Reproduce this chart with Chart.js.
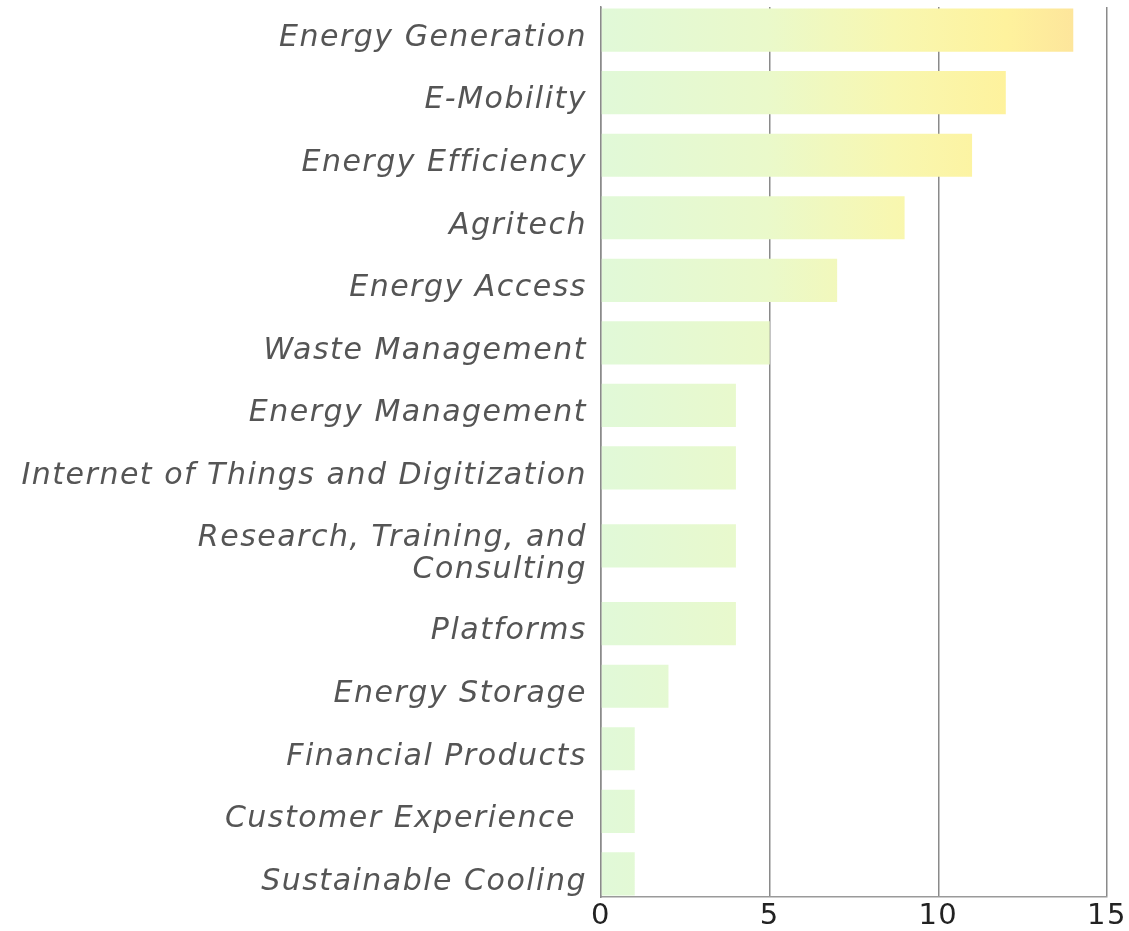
<!DOCTYPE html>
<html>
<head>
<meta charset="utf-8">
<script src="https://cdn.jsdelivr.net/npm/chart.js@4/dist/chart.umd.min.js"></script>
<style>
  html, body { margin: 0; padding: 0; background: #fff; }
  #wrap { width: 1129px; height: 931px; }
</style>
</head>
<body>
<div id="wrap"><canvas id="myChart" width="1129" height="931"></canvas></div>
<script>
'use strict';

var categories = [
  'Energy Generation',
  'E-Mobility',
  'Energy Efficiency',
  'Agritech',
  'Energy Access',
  'Waste Management',
  'Energy Management',
  'Internet of Things and Digitization',
  ['Research, Training, and', 'Consulting'],
  'Platforms',
  'Energy Storage',
  'Financial Products',
  'Customer Experience ',
  'Sustainable Cooling'
];
var counts = [14, 12, 11, 9, 7, 5, 4, 4, 4, 4, 2, 1, 1, 1];
var xTicks = [0, 5, 10, 15];

var labelFont = 'DejaVu Sans';
var labelSpacing = '1.5px';

// category axis where a row grows when its label wraps onto more lines
var END_PAD = 0.37;
var EXTRA_LINE = 0.49;

class RowScale extends Chart.CategoryScale {
  rowWeight (i) {
    var lbl = this.getLabels()[i];
    var lines = Array.isArray(lbl) ? lbl.length : 1;
    return 1 + (lines - 1) * EXTRA_LINE;
  }
  rowCenter (i) {
    var u = END_PAD;
    for (var k = 0; k < i; k++) {
      u += (this.rowWeight(k) + this.rowWeight(k + 1)) / 2;
    }
    return u;
  }
  getPixelForValue (value) {
    if (typeof value !== 'number') {
      value = this.parse(value);
    }
    var n = this.getLabels().length;
    var total = this.rowCenter(n - 1) + END_PAD;
    return this.top + this.rowCenter(value) / total * (this.bottom - this.top);
  }
}
RowScale.id = 'rows';
RowScale.defaults = Chart.CategoryScale.defaults;
Chart.register(RowScale);

// green -> yellow -> peach, spread over the whole plot width
function barFill (context) {
  var chart = context.chart;
  var area = chart.chartArea;
  if (!area) {
    return '#e3f8d8';
  }
  var g = chart.ctx.createLinearGradient(area.left, 0, area.right, 0);
  g.addColorStop(0, '#e1f9d8');
  g.addColorStop(0.33, '#eaf9ca');
  g.addColorStop(0.58, '#f8f7b0');
  g.addColorStop(0.8, '#fef29d');
  g.addColorStop(0.95, '#fde49b');
  return g;
}

var spacingPlugin = {
  id: 'spacing',
  beforeUpdate: function (chart) { chart.ctx.letterSpacing = labelSpacing; },
  beforeDraw: function (chart) { chart.ctx.letterSpacing = labelSpacing; }
};

var ctx = document.getElementById('myChart').getContext('2d');
var chart = new Chart(ctx, {
  type: 'bar',
  data: {
    labels: categories,
    datasets: [{
      data: counts,
      backgroundColor: barFill,
      borderWidth: 0,
      categoryPercentage: 1,
      barPercentage: 0.69
    }]
  },
  plugins: [spacingPlugin],
  options: {
    indexAxis: 'y',
    responsive: false,
    animation: false,
    events: [],
    layout: { padding: { top: 7, right: 22, left: 0, bottom: 0 } },
    plugins: {
      legend: { display: false },
      tooltip: { enabled: false }
    },
    scales: {
      x: {
        min: 0,
        max: 15,
        afterBuildTicks: function (scale) {
          scale.ticks = xTicks.map(function (v) { return { value: v }; });
        },
        afterFit: function (scale) { scale.height = 34; },
        grid: { color: '#8a8a8a', lineWidth: 1.5, drawTicks: false },
        border: { color: '#9a9a9a', width: 1.5 },
        ticks: {
          padding: 2,
          color: '#222',
          font: { family: labelFont, size: 29 }
        }
      },
      y: {
        type: 'rows',
        afterFit: function (scale) {
          scale.width = 601;
          scale.paddingTop = 0;
          scale.paddingBottom = 0;
        },
        grid: { display: false, drawTicks: false },
        border: { color: '#8a8a8a', width: 1.5 },
        ticks: {
          padding: 14,
          labelOffset: 8,
          color: '#555',
          autoSkip: false,
          font: { family: labelFont, size: 30, style: 'italic', lineHeight: 1.07 }
        }
      }
    }
  }
});
</script>
</body>
</html>
